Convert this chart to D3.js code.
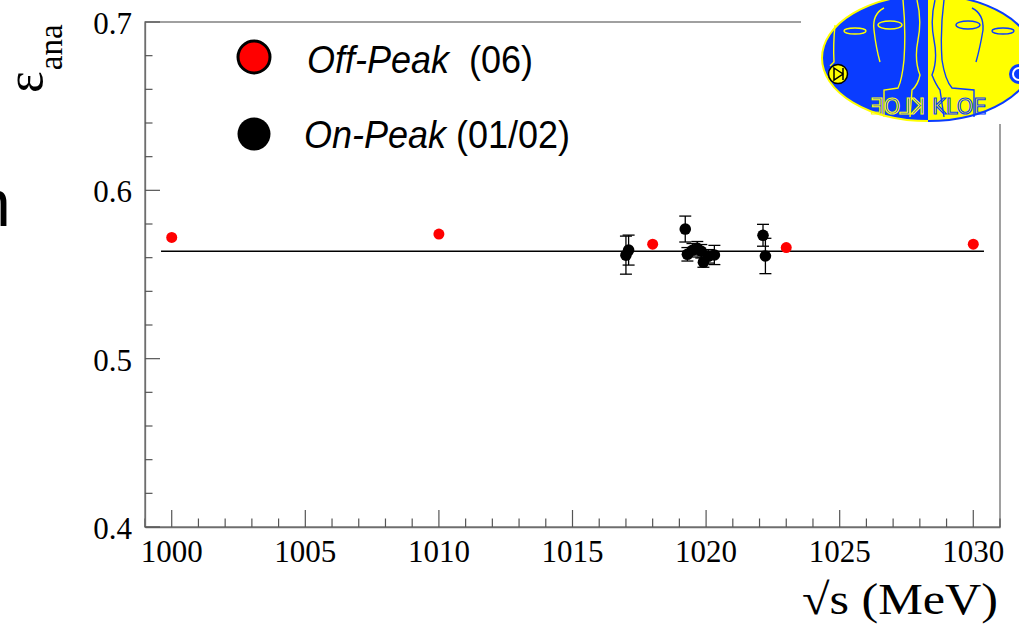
<!DOCTYPE html>
<html><head><meta charset="utf-8">
<script src="https://cdn.jsdelivr.net/npm/d3@7/dist/d3.min.js"></script>
<style>html,body{margin:0;padding:0;background:#fff;}svg{display:block;}</style>
</head><body>
<script>
// ---- data ----
const offEnergy = [1000, 1010, 1018, 1023, 1030];
const offEff    = [0.572, 0.574, 0.568, 0.566, 0.568];
const onEnergy  = [1017.0, 1017.1, 1019.22, 1019.30, 1019.49, 1019.67, 1019.82, 1019.90, 1020.08, 1020.31, 1022.13, 1022.22];
const onEff     = [0.5615, 0.5645, 0.577, 0.562, 0.5644, 0.5656, 0.5638, 0.5573, 0.5608, 0.5616, 0.5733, 0.561];
const onErr     = [0.0113, 0.0089, 0.0077, 0.004, 0.004, 0.004, 0.004, 0.003, 0.004, 0.0057, 0.0065, 0.0105];
const fitRange  = [999.6, 1030.4];
const fitValue  = 0.5638;
const xTicks    = [1000, 1005, 1010, 1015, 1020, 1025, 1030];
const yTicks    = [0.4, 0.5, 0.6, 0.7];
const legendLabels = [["Off-Peak", "  (06)"], ["On-Peak", " (01/02)"]];

const W = 1019, H = 627;
const L = 145, R = 1000, T = 22, B = 527;
const svg = d3.select("body").append("svg").attr("width", W).attr("height", H);

const x = d3.scaleLinear().domain([999, 1031]).range([L, R]);
const y = d3.scaleLinear().domain([0.4, 0.7]).range([B, T]);

const frameColor = "#6e6e6e";
svg.append("rect").attr("x", L).attr("y", T).attr("width", R - L).attr("height", B - T)
  .attr("fill", "none").attr("stroke", frameColor).attr("stroke-width", 1.3);

// x axis
const xMinor = d3.range(999, 1032, 1);
const gx = svg.append("g").attr("transform", `translate(0,${B})`);
gx.call(d3.axisBottom(x).tickValues(xMinor).tickSize(0).tickFormat(""));
gx.select(".domain").attr("stroke", frameColor).attr("stroke-width", 1.3);
gx.selectAll(".tickm").data(xMinor).enter().append("line")
  .attr("x1", d => x(d)).attr("x2", d => x(d))
  .attr("y1", 0).attr("y2", d => (d % 5 === 0 ? -17 : -8.5))
  .attr("stroke", "#555").attr("stroke-width", 1.2);
gx.selectAll(".tl").data(xTicks).enter().append("text")
  .attr("x", d => x(d)).attr("y", 35).attr("text-anchor", "middle")
  .attr("font-family", "Liberation Serif").attr("font-size", 31).attr("fill", "#000")
  .text(d => d);

// y axis
const yMinor = d3.range(0, 16).map(i => +(0.4 + i * 0.02).toFixed(2));
const gy = svg.append("g").attr("transform", `translate(${L},0)`);
gy.call(d3.axisLeft(y).tickValues(yTicks).tickSize(0).tickFormat(""));
gy.select(".domain").attr("stroke", frameColor).attr("stroke-width", 1.3);
gy.selectAll(".tickm").data(yMinor).enter().append("line")
  .attr("y1", d => y(d)).attr("y2", d => y(d))
  .attr("x1", 0).attr("x2", (d, i) => (i % 5 === 0 ? 15 : 7.5))
  .attr("stroke", "#555").attr("stroke-width", 1.2);
gy.selectAll(".tl").data(yTicks).enter().append("text")
  .attr("x", -13).attr("y", d => y(d) + 12).attr("text-anchor", "end")
  .attr("font-family", "Liberation Serif").attr("font-size", 31).attr("fill", "#000")
  .text(d => d.toFixed(1));

// axis titles
svg.append("text").attr("transform", "translate(998,614) scale(1.14,1)").attr("text-anchor", "end")
  .attr("font-family", "Liberation Serif").attr("font-size", 44).attr("fill", "#000")
  .text("\u221As (MeV)");
const yt = svg.append("text").attr("transform", "translate(42,93) rotate(-90)")
  .attr("font-family", "Liberation Serif").attr("fill", "#000");
yt.append("tspan").attr("font-size", 52).text("\u03B5");
yt.append("tspan").attr("font-size", 33).attr("dy", 20).attr("dx", 1).text("ana");

// fit line
svg.append("line").attr("x1", x(fitRange[0])).attr("x2", x(fitRange[1]))
  .attr("y1", y(fitValue)).attr("y2", y(fitValue)).attr("stroke", "#000").attr("stroke-width", 1.4);

// on-peak error bars + points
const onData = onEnergy.map((e, i) => ({e, v: onEff[i], err: onErr[i]}));
const eb = svg.append("g").attr("stroke", "#000").attr("stroke-width", 1.3);
onData.forEach(d => {
  eb.append("line").attr("x1", x(d.e)).attr("x2", x(d.e)).attr("y1", y(d.v - d.err)).attr("y2", y(d.v + d.err));
  [d.v - d.err, d.v + d.err].forEach(v => eb.append("line")
    .attr("x1", x(d.e) - 6).attr("x2", x(d.e) + 6).attr("y1", y(v)).attr("y2", y(v)));
});
svg.append("g").selectAll("circle").data(onData).enter().append("circle")
  .attr("cx", d => x(d.e)).attr("cy", d => y(d.v)).attr("r", 5.8).attr("fill", "#000");

// off-peak points
const offData = offEnergy.map((e, i) => ({e, v: offEff[i]}));
svg.append("g").selectAll("circle").data(offData).enter().append("circle")
  .attr("cx", d => x(d.e)).attr("cy", d => y(d.v)).attr("r", 5.5).attr("fill", "#ff0000");

// legend
const lg = svg.append("g");
lg.append("circle").attr("cx", 254).attr("cy", 57).attr("r", 16).attr("fill", "#ff0000").attr("stroke", "#000").attr("stroke-width", 3);
lg.append("circle").attr("cx", 254).attr("cy", 134).attr("r", 16.5).attr("fill", "#000");
[[307, 73], [304, 148]].forEach((p, i) => {
  const t = lg.append("text").attr("transform", `translate(${p[0]},${p[1]}) scale(1,1.1)`)
    .attr("font-family", "Liberation Sans")
    .attr("font-size", 36).attr("fill", "#000").attr("xml:space", "preserve");
  t.append("tspan").attr("font-style", "italic").text(legendLabels[i][0]);
  t.append("tspan").text(legendLabels[i][1]);
});

// stray glyph at left edge
svg.append("text").attr("x", -26).attr("y", 226).attr("font-family", "Liberation Sans")
  .attr("font-size", 66).attr("fill", "#000").text("n");

// ---- KLOE logo ----
const logo = svg.append("g");
logo.append("rect").attr("x", 801).attr("y", 0).attr("width", 218).attr("height", 124).attr("fill", "#fff");
const cx = 928, cy = 58, rx = 106, ry = 63;
const defs = svg.append("defs");
defs.append("clipPath").attr("id", "lh").append("rect").attr("x", 700).attr("y", -20).attr("width", cx - 700).attr("height", 200);
defs.append("clipPath").attr("id", "rh").append("rect").attr("x", cx).attr("y", -20).attr("width", 200).attr("height", 200);
const blue = "#0a3cff", yel = "#ffff00";
logo.append("ellipse").attr("clip-path", "url(#lh)").attr("cx", cx).attr("cy", cy).attr("rx", rx).attr("ry", ry)
  .attr("fill", blue).attr("stroke", yel).attr("stroke-width", 2);
logo.append("ellipse").attr("clip-path", "url(#rh)").attr("cx", cx).attr("cy", cy).attr("rx", rx).attr("ry", ry)
  .attr("fill", yel).attr("stroke", blue).attr("stroke-width", 2);
const lf = logo.append("g").attr("fill", "none").attr("stroke", yel).attr("stroke-width", 1.4);
lf.append("ellipse").attr("cx", 855).attr("cy", 31).attr("rx", 11).attr("ry", 3);
lf.append("ellipse").attr("cx", 890).attr("cy", 25).attr("rx", 12).attr("ry", 4);
lf.append("path").attr("d", "M835,25 Q833,45 834,62 L830,66");
lf.append("path").attr("d", "M884,8 Q872,14 874,30 Q876,48 880,62");
lf.append("path").attr("d", "M903,0 Q906,30 904,60 Q902,80 898,88 L884,90 L884,117");
lf.append("path").attr("d", "M917,0 Q922,20 918,40 Q914,60 920,75 Q918,85 912,90 L910,117");
const rf = logo.append("g").attr("fill", "none").attr("stroke", blue).attr("stroke-width", 1.4);
rf.append("ellipse").attr("cx", 968).attr("cy", 25).attr("rx", 12).attr("ry", 4);
rf.append("ellipse").attr("cx", 1003).attr("cy", 31).attr("rx", 11).attr("ry", 3);
rf.append("path").attr("d", "M972,8 Q984,14 983,30 Q980,48 976,62");
rf.append("path").attr("d", "M944,0 Q940,30 942,60 Q945,80 952,88 L974,90 L974,117");
rf.append("path").attr("d", "M935,0 Q930,20 934,40 Q938,60 932,75 Q936,85 940,90 L944,117");
logo.append("text").attr("transform", "translate(925,114) scale(-1,1)").attr("font-family", "DejaVu Sans")
  .attr("font-size", 21).attr("fill", "none").attr("stroke", yel).attr("stroke-width", 1.1).text("KLOE");
logo.append("text").attr("x", 932).attr("y", 114).attr("font-family", "DejaVu Sans")
  .attr("font-size", 21).attr("fill", "none").attr("stroke", blue).attr("stroke-width", 1.1).text("KLOE");
logo.append("circle").attr("cx", 838).attr("cy", 74).attr("r", 9.5).attr("fill", yel).attr("stroke", "#000").attr("stroke-width", 1.5);
logo.append("path").attr("d", "M834,68 L843,74 L834,80 Z M843,68 L843,80").attr("fill", "none").attr("stroke", "#000").attr("stroke-width", 1.5);
logo.append("circle").attr("cx", 1019).attr("cy", 74).attr("r", 10).attr("fill", blue);
logo.append("circle").attr("cx", 1019).attr("cy", 74).attr("r", 6).attr("fill", "none").attr("stroke", "#fff").attr("stroke-width", 2);
</script>
</body></html>
